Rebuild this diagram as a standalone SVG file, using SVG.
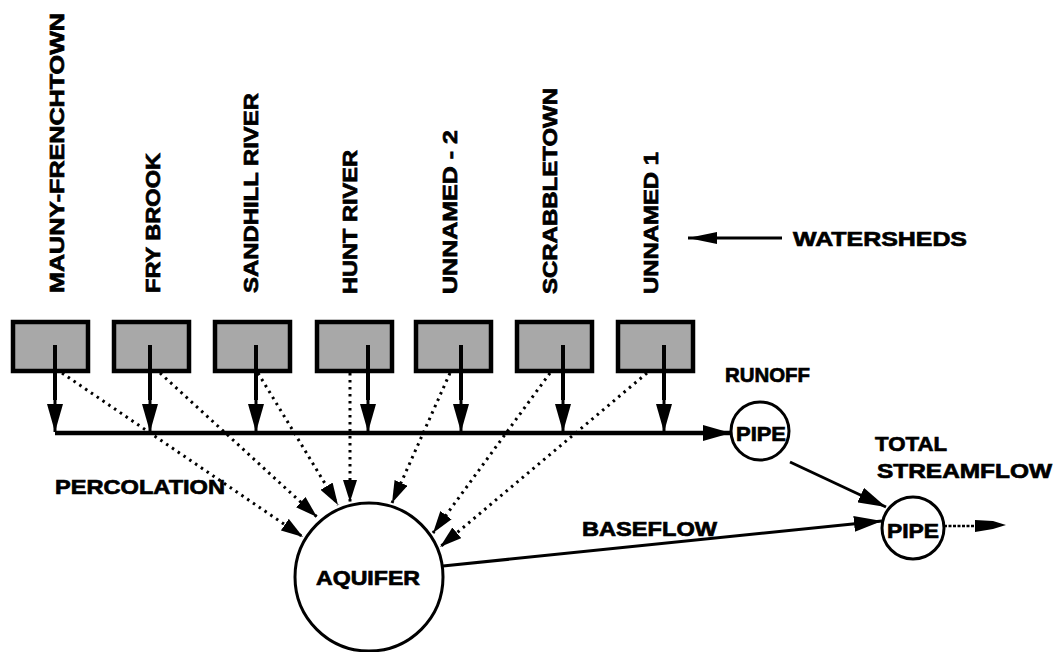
<svg xmlns="http://www.w3.org/2000/svg" width="1055" height="652" viewBox="0 0 1055 652">
<style>
text{font-family:"Liberation Sans",Arial,sans-serif;font-weight:bold;fill:#000;stroke:#000;stroke-width:0.7}
.lbl{font-size:21px}
.vl{font-size:20px}
.box{fill:#a8a8a8;stroke:#000;stroke-width:4.5}
.node{fill:#fff;stroke:#000;stroke-width:3}
.solid{stroke:#000;stroke-width:3;fill:none}
.main{stroke:#000;stroke-width:4.5;fill:none}
.dot{stroke:#000;stroke-width:3;fill:none;stroke-dasharray:2.5 4.5}
.stem{stroke:#000;stroke-width:4}
</style>
<defs>
<marker id="ah" viewBox="0 0 28 16" refX="28" refY="8" markerWidth="28" markerHeight="16" markerUnits="userSpaceOnUse" orient="auto">
<path d="M0,0 L28,8 L0,16 Z" fill="#000" stroke="none"/>
</marker>
<marker id="ahd" viewBox="0 0 22 14" refX="22" refY="7" markerWidth="22" markerHeight="14" markerUnits="userSpaceOnUse" orient="auto">
<path d="M0,0 L22,7 L0,14 Z" fill="#000" stroke="none"/>
</marker>
<marker id="ahw" viewBox="0 0 29 12" refX="29" refY="6" markerWidth="29" markerHeight="12" markerUnits="userSpaceOnUse" orient="auto">
<path d="M0,0 L29,6 L0,12 Z" fill="#000" stroke="none"/>
</marker>
</defs>

<g id="labels">
<text class="vl" transform="translate(64,293) rotate(-90)" textLength="280" lengthAdjust="spacingAndGlyphs">MAUNY-FRENCHTOWN</text>
<text class="vl" transform="translate(160,293) rotate(-90)" textLength="140" lengthAdjust="spacingAndGlyphs">FRY BROOK</text>
<text class="vl" transform="translate(258,293) rotate(-90)" textLength="200" lengthAdjust="spacingAndGlyphs">SANDHILL RIVER</text>
<text class="vl" transform="translate(357,294) rotate(-90)" textLength="144" lengthAdjust="spacingAndGlyphs">HUNT RIVER</text>
<text class="vl" transform="translate(457,294) rotate(-90)" textLength="164" lengthAdjust="spacingAndGlyphs">UNNAMED - 2</text>
<text class="vl" transform="translate(557,294) rotate(-90)" textLength="206" lengthAdjust="spacingAndGlyphs">SCRABBLETOWN</text>
<text class="vl" transform="translate(658,294) rotate(-90)" textLength="142" lengthAdjust="spacingAndGlyphs">UNNAMED 1</text>
<text class="lbl" x="793" y="246" textLength="174" lengthAdjust="spacingAndGlyphs">WATERSHEDS</text>
<text class="lbl" x="725" y="382" textLength="85" lengthAdjust="spacingAndGlyphs">RUNOFF</text>
<text class="lbl" x="875" y="451" textLength="72" lengthAdjust="spacingAndGlyphs">TOTAL</text>
<text class="lbl" x="877" y="478" textLength="175" lengthAdjust="spacingAndGlyphs">STREAMFLOW</text>
<text class="lbl" x="55" y="494" textLength="170" lengthAdjust="spacingAndGlyphs">PERCOLATION</text>
<text class="lbl" x="582" y="536" textLength="135" lengthAdjust="spacingAndGlyphs">BASEFLOW</text>
</g>

<g id="watershed-1"><rect class="box" x="13" y="322" width="75" height="49"/></g>
<g id="watershed-2"><rect class="box" x="114" y="322" width="75" height="49"/></g>
<g id="watershed-3"><rect class="box" x="215" y="322" width="75" height="49"/></g>
<g id="watershed-4"><rect class="box" x="317" y="322" width="75" height="49"/></g>
<g id="watershed-5"><rect class="box" x="416" y="322" width="75" height="49"/></g>
<g id="watershed-6"><rect class="box" x="517" y="322" width="75" height="49"/></g>
<g id="watershed-7"><rect class="box" x="618" y="322" width="75" height="49"/></g>

<g id="pipe-runoff"><circle class="node" cx="760" cy="431" r="29"/><text class="lbl" x="761" y="441" text-anchor="middle" textLength="50" lengthAdjust="spacingAndGlyphs">PIPE</text></g>
<g id="pipe-total"><circle class="node" cx="913" cy="528" r="31"/><text class="lbl" x="913" y="538" text-anchor="middle" textLength="52" lengthAdjust="spacingAndGlyphs">PIPE</text></g>
<g id="aquifer"><circle class="node" cx="369" cy="577" r="74"/><text class="lbl" x="368" y="585" text-anchor="middle" textLength="104" lengthAdjust="spacingAndGlyphs">AQUIFER</text></g>

<g id="connectors">
<line class="solid" x1="782" y1="238" x2="688" y2="238" marker-end="url(#ahw)" stroke-width="2.5"/>
<line class="stem" x1="55" y1="345" x2="55" y2="400"/>
<line class="stem" x1="150" y1="345" x2="150" y2="400"/>
<line class="stem" x1="256" y1="345" x2="256" y2="400"/>
<line class="stem" x1="368" y1="345" x2="368" y2="400"/>
<line class="stem" x1="461" y1="345" x2="461" y2="400"/>
<line class="stem" x1="563" y1="345" x2="563" y2="400"/>
<line class="stem" x1="664" y1="345" x2="664" y2="400"/>
<line class="solid" x1="55" y1="345" x2="55" y2="432" marker-end="url(#ah)"/>
<line class="solid" x1="150" y1="345" x2="150" y2="432" marker-end="url(#ah)"/>
<line class="solid" x1="256" y1="345" x2="256" y2="432" marker-end="url(#ah)"/>
<line class="solid" x1="368" y1="345" x2="368" y2="432" marker-end="url(#ah)"/>
<line class="solid" x1="461" y1="345" x2="461" y2="432" marker-end="url(#ah)"/>
<line class="solid" x1="563" y1="345" x2="563" y2="432" marker-end="url(#ah)"/>
<line class="solid" x1="664" y1="345" x2="664" y2="432" marker-end="url(#ah)"/>
<line class="main" x1="55" y1="433" x2="731" y2="433" marker-end="url(#ah)"/>
<line class="dot" x1="62" y1="373" x2="303" y2="537" marker-end="url(#ahd)"/>
<line class="dot" x1="160" y1="373" x2="317" y2="517" marker-end="url(#ahd)"/>
<line class="dot" x1="258" y1="373" x2="338" y2="505" marker-end="url(#ahd)"/>
<line class="dot" x1="350" y1="373" x2="350" y2="502" marker-end="url(#ahd)"/>
<line class="dot" x1="450" y1="373" x2="392" y2="503" marker-end="url(#ahd)"/>
<line class="dot" x1="550" y1="373" x2="433" y2="533" marker-end="url(#ahd)"/>
<line class="dot" x1="647" y1="373" x2="440" y2="547" marker-end="url(#ahd)"/>
<line class="solid" x1="790" y1="462" x2="886" y2="507" marker-end="url(#ah)" stroke-width="3.5"/>
<line class="solid" x1="443" y1="566" x2="882" y2="521" marker-end="url(#ah)"/>
<line x1="944" y1="526" x2="978" y2="526" stroke="#000" stroke-width="2.5" stroke-dasharray="3 1.5"/>
<path d="M975,520 L993,521 L1006,525 L993,529 L975,532 Z" fill="#000"/>
</g>
</svg>
